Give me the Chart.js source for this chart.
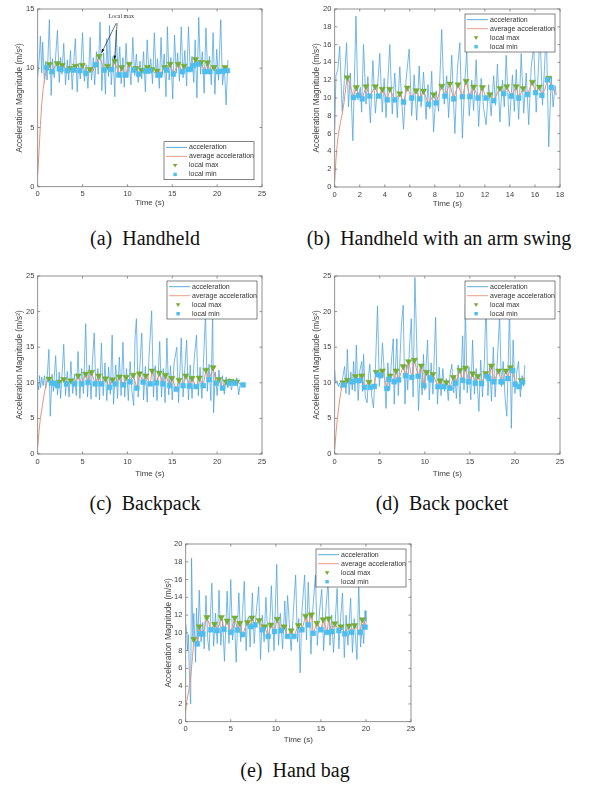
<!DOCTYPE html>
<html>
<head>
<meta charset="utf-8">
<script src="https://cdn.jsdelivr.net/npm/chart.js@4.4.1/dist/chart.umd.min.js"></script>
<style>
  body { margin: 0; background: #fff; width: 596px; height: 785px; position: relative; overflow: hidden; }
  .panel { position: absolute; width: 298px; height: 225px; }
  .cap { position: absolute; font-family: "Liberation Serif", "Times New Roman", serif; font-size: 20px;
         line-height: 24px; color: #111; white-space: pre; transform: translateX(-50%); }
</style>
</head>
<body>
<div class="panel" style="left:0;top:0"><canvas id="pa" width="298" height="225"></canvas></div>
<div class="panel" style="left:298px;top:0"><canvas id="pb" width="298" height="225"></canvas></div>
<div class="panel" style="left:0;top:265px"><canvas id="pc" width="298" height="225"></canvas></div>
<div class="panel" style="left:298px;top:265px"><canvas id="pd" width="298" height="225"></canvas></div>
<div class="panel" style="left:150px;top:530px"><canvas id="pe" width="298" height="225"></canvas></div>

<div class="cap" style="left:145px;top:226px">(a)  Handheld</div>
<div class="cap" style="left:439px;top:226px">(b)  Handheld with an arm swing</div>
<div class="cap" style="left:145px;top:491px">(c)  Backpack</div>
<div class="cap" style="left:442px;top:491px">(d)  Back pocket</div>
<div class="cap" style="left:295px;top:758px">(e)  Hand bag</div>

<script>
// ---- data: [time (s), acceleration magnitude (m/s^2)] ----

// (a) Handheld
const handheldAcc = [[0,9.3],[0.15,10.5],[0.3,12.7],[0.45,9.6],[0.55,12.2],[0.75,8.8],[0.9,10.6],[1.05,9.0],[1.3,14.1],[1.5,7.7],[1.65,10.8],[1.85,9.2],[2.0,11.0],[2.2,13.2],[2.4,8.8],[2.55,10.9],[2.7,9.5],[2.9,12.1],[3.1,8.6],[3.3,10.7],[3.45,9.0],[3.65,11.5],[3.85,8.2],[4.05,10.9],[4.2,12.5],[4.4,8.0],[4.55,10.4],[4.75,9.1],[5.0,13.0],[5.2,8.9],[5.4,10.3],[5.6,8.3],[5.85,12.6],[6.0,9.0],[6.2,10.9],[6.35,8.6],[6.55,11.4],[6.75,9.5],[6.95,13.9],[7.15,8.1],[7.35,11.3],[7.55,7.8],[7.7,12.5],[7.9,9.3],[8.0,13.6],[8.2,8.6],[8.4,11.0],[8.6,7.6],[8.75,13.2],[8.95,9.6],[9.15,11.8],[9.3,8.7],[9.5,10.9],[9.65,8.4],[9.85,12.1],[10.05,9.2],[10.2,10.5],[10.4,8.6],[10.6,12.6],[10.8,9.4],[11.0,11.2],[11.2,8.8],[11.4,10.6],[11.6,9.1],[11.8,11.4],[12.0,8.0],[12.2,12.4],[12.4,9.5],[12.6,10.8],[12.8,8.7],[13.0,13.0],[13.2,9.2],[13.35,10.8],[13.55,8.3],[13.75,12.6],[13.9,9.4],[14.1,11.2],[14.3,7.6],[14.45,13.5],[14.65,9.0],[14.85,10.9],[15.05,7.4],[15.25,12.8],[15.45,9.6],[15.6,11.3],[15.8,8.9],[16.0,13.5],[16.2,9.2],[16.4,11.5],[16.6,8.5],[16.8,13.5],[17.0,9.8],[17.2,11.0],[17.4,8.8],[17.55,12.4],[17.75,7.5],[17.95,14.3],[18.15,9.5],[18.35,11.4],[18.55,7.9],[18.75,13.4],[18.95,9.6],[19.15,11.0],[19.35,8.6],[19.55,13.0],[19.75,7.8],[19.95,11.6],[20.15,9.0],[20.4,14.1],[20.6,8.6],[20.8,10.2],[21.0,6.9],[21.2,10.7]];
const handheldAvg = [[0,1.0],[0.15,3.0],[0.3,5.2],[0.45,7.0],[0.6,8.2],[0.8,9.2],[1.0,10.05],[1.3,10.33],[1.56,9.71],[2.19,10.41],[2.4,9.95],[2.5,10.05],[2.6,9.9],[2.74,10.27],[3.3,9.8],[3.6,9.99],[4.0,9.85],[4.19,10.19],[4.71,9.8],[4.97,10.27],[5.38,9.57],[5.82,9.91],[6.1,9.7],[6.5,10.3],[6.86,11.03],[7.42,9.85],[7.79,10.19],[8.23,9.9],[8.6,10.61],[9.05,9.43],[9.35,10.08],[9.75,9.43],[10.2,10.36],[10.72,9.85],[10.94,9.99],[11.24,9.51],[11.57,9.85],[12.02,9.75],[12.24,10.08],[12.5,9.8],[12.72,9.91],[13.05,9.6],[13.3,9.77],[13.43,9.43],[13.61,9.43],[14.17,10.08],[14.35,9.85],[14.76,10.36],[15.13,9.51],[15.65,10.36],[16.13,9.71],[16.32,10.19],[16.77,9.9],[17.03,9.9],[17.32,10.22],[17.58,10.75],[17.9,10.35],[18.21,10.5],[18.62,9.71],[18.92,10.47],[19.18,9.71],[19.66,10.08],[20.1,9.71],[20.35,9.9],[20.59,9.75],[20.88,10.08],[21.14,9.8]];
const handheldMax = [[1.3,10.33],[2.19,10.41],[2.74,10.27],[3.6,9.99],[4.19,10.19],[4.97,10.27],[5.82,9.91],[6.86,11.03],[7.79,10.19],[8.6,10.61],[9.35,10.08],[10.2,10.36],[10.94,9.99],[11.57,9.85],[12.24,10.08],[12.72,9.91],[13.3,9.77],[14.17,10.08],[14.76,10.36],[15.65,10.36],[16.32,10.19],[17.58,10.75],[18.21,10.5],[18.92,10.47],[19.66,10.08],[20.88,10.08]];
const handheldMin = [[1.0,10.05],[1.56,9.71],[2.4,9.95],[2.6,9.9],[3.3,9.8],[4.0,9.85],[4.71,9.8],[5.38,9.57],[6.5,10.3],[7.42,9.85],[8.23,9.9],[9.05,9.43],[9.75,9.43],[10.72,9.85],[11.24,9.51],[12.02,9.75],[12.5,9.8],[13.43,9.43],[13.61,9.43],[14.35,9.85],[15.13,9.51],[16.13,9.71],[16.77,9.9],[17.03,9.9],[17.32,10.22],[17.9,10.35],[18.62,9.71],[19.18,9.71],[20.1,9.71],[20.59,9.75],[21.14,9.8]];
// "Local max" note: text position, arrow tails and tips (data coords)
const handheldNote = { text: [9.3, 14.4], arrows: [[8.75, 13.8, 7.12, 11.3], [8.85, 13.8, 8.57, 10.75]] };

// (b) Handheld with an arm swing
const swingAcc = [[0,6.5],[0.1,12.5],[0.25,13.2],[0.4,15.8],[0.6,8.5],[0.75,11.5],[0.95,16.2],[1.1,9.0],[1.25,12.8],[1.45,5.2],[1.7,19.2],[1.85,9.8],[2.05,11.2],[2.15,8.4],[2.3,16.0],[2.5,9.3],[2.65,12.4],[2.85,7.2],[3.05,14.2],[3.25,8.3],[3.45,11.8],[3.6,15.0],[3.8,8.4],[3.95,12.2],[4.1,7.8],[4.4,16.0],[4.6,8.2],[4.8,12.8],[5.0,7.8],[5.2,13.5],[5.35,9.8],[5.5,6.5],[5.7,12.0],[5.95,15.5],[6.15,8.0],[6.35,12.6],[6.55,7.5],[6.75,13.6],[6.9,9.0],[7.1,12.9],[7.3,7.6],[7.45,11.5],[7.6,8.8],[7.75,13.0],[7.9,6.2],[8.1,10.8],[8.3,8.5],[8.55,17.7],[8.75,9.3],[8.95,12.5],[9.1,7.8],[9.35,14.8],[9.6,6.0],[9.8,13.2],[10.0,16.2],[10.2,5.5],[10.4,12.0],[10.55,15.2],[10.75,8.0],[10.95,12.0],[11.1,8.6],[11.3,14.3],[11.5,6.8],[11.7,12.2],[11.9,8.8],[12.1,7.0],[12.3,11.5],[12.5,8.0],[12.7,12.5],[12.85,9.2],[13.0,13.8],[13.2,7.3],[13.4,12.0],[13.55,9.0],[13.7,14.8],[13.95,6.8],[14.2,12.6],[14.35,8.5],[14.5,13.2],[14.7,7.6],[14.9,15.0],[15.1,8.3],[15.3,12.8],[15.5,7.0],[15.7,13.5],[15.9,15.8],[16.1,8.4],[16.25,12.6],[16.4,17.5],[16.6,9.2],[16.75,13.0],[16.9,17.8],[17.1,4.5],[17.3,12.4],[17.45,9.0],[17.6,11.4],[17.7,10.3]];
const swingAvg = [[0,0.7],[0.1,3.0],[0.2,4.8],[0.3,6.0],[0.45,7.2],[0.6,8.2],[0.75,9.5],[0.9,11.3],[1.0,12.3],[1.2,11.6],[1.5,10.05],[1.73,11.2],[1.9,10.3],[2.05,10.6],[2.2,9.9],[2.5,11.3],[2.8,10.2],[3.24,11.3],[3.5,10.2],[3.8,11.0],[4.2,9.8],[4.4,11.0],[4.8,9.8],[5.2,10.5],[5.5,9.55],[5.8,11.15],[6.15,10.0],[6.5,10.85],[6.8,9.9],[7.1,10.8],[7.5,9.3],[7.9,10.4],[8.1,9.45],[8.55,11.35],[8.8,10.2],[9.2,11.6],[9.5,9.9],[9.85,11.5],[10.2,10.15],[10.5,11.9],[10.8,10.15],[11.1,11.25],[11.45,10.0],[11.8,11.2],[12.1,10.0],[12.4,10.4],[12.7,9.7],[13.2,11.1],[13.5,10.5],[13.75,11.3],[14.1,10.2],[14.5,11.3],[14.7,10.0],[15.05,11.1],[15.4,10.4],[15.8,11.8],[16.05,10.6],[16.35,11.25],[16.55,10.3],[16.8,11.0],[17.0,12.05],[17.1,12.25],[17.3,11.2],[17.5,10.8],[17.7,10.4]];
const swingMax = [[1.0,12.3],[1.73,11.2],[2.5,11.3],[3.24,11.3],[3.8,11.0],[4.4,11.0],[5.2,10.5],[5.8,11.15],[6.5,10.85],[7.1,10.8],[7.9,10.4],[8.55,11.35],[9.2,11.6],[9.85,11.5],[10.5,11.9],[11.1,11.25],[11.8,11.2],[12.4,10.4],[13.2,11.1],[13.75,11.3],[14.5,11.3],[15.05,11.1],[15.8,11.8],[16.35,11.25],[17.1,12.25]];
const swingMin = [[1.5,10.05],[1.9,10.3],[2.2,9.9],[2.8,10.2],[3.5,10.2],[4.2,9.8],[4.8,9.8],[5.5,9.55],[6.15,10.0],[6.8,9.9],[7.5,9.3],[8.1,9.45],[8.8,10.2],[9.5,9.9],[10.2,10.15],[10.8,10.15],[11.45,10.0],[12.1,10.0],[12.7,9.7],[13.5,10.5],[14.1,10.2],[14.7,10.0],[15.4,10.4],[16.05,10.6],[16.55,10.3],[17.0,12.05],[17.3,11.2]];

// (c) Backpack
const backpackAcc = [[0,10.0],[0.1,9.0],[0.2,11.0],[0.3,9.3],[0.45,10.8],[0.6,9.6],[0.75,11.0],[0.9,9.2],[1.05,10.6],[1.25,14.7],[1.4,5.3],[1.6,11.2],[1.75,8.8],[2.0,13.8],[2.2,8.3],[2.4,11.5],[2.55,7.8],[2.75,12.0],[2.9,15.4],[3.1,8.2],[3.3,11.6],[3.5,8.0],[3.7,13.0],[3.9,8.5],[4.1,11.2],[4.3,8.2],[4.5,14.4],[4.7,7.8],[4.9,12.0],[5.1,8.5],[5.35,18.3],[5.55,8.0],[5.75,12.5],[5.95,7.7],[6.1,13.0],[6.3,17.0],[6.5,8.0],[6.7,12.0],[6.9,7.6],[7.1,15.6],[7.3,8.2],[7.5,12.8],[7.7,7.5],[7.9,12.2],[8.1,8.4],[8.3,16.7],[8.45,7.0],[8.7,12.5],[8.9,7.8],[9.1,13.6],[9.3,8.2],[9.5,15.7],[9.7,8.0],[9.9,12.0],[10.1,7.5],[10.3,13.0],[10.5,8.8],[10.7,6.8],[10.85,16.3],[11.0,19.0],[11.2,8.0],[11.4,12.6],[11.6,17.0],[11.8,7.6],[12.0,12.3],[12.2,7.3],[12.4,13.5],[12.7,20.1],[12.9,8.0],[13.1,12.4],[13.3,7.5],[13.6,15.8],[13.8,8.0],[14.0,12.0],[14.2,7.2],[14.4,16.3],[14.6,8.3],[14.8,12.4],[15.0,7.6],[15.2,12.8],[15.5,15.0],[15.7,7.2],[16.0,16.3],[16.2,8.0],[16.4,12.0],[16.6,16.0],[16.8,7.6],[17.0,12.5],[17.2,7.8],[17.45,13.4],[17.7,16.7],[17.9,8.2],[18.1,12.2],[18.3,7.8],[18.5,13.5],[18.7,19.7],[18.9,8.8],[19.1,12.6],[19.3,7.5],[19.5,20.0],[19.6,5.8],[19.8,11.5],[20.0,8.2],[20.2,11.8],[20.4,9.0],[20.6,11.0],[20.8,8.4],[21.0,10.8],[21.2,9.3],[21.4,10.6],[21.6,9.0],[21.8,10.5],[22.0,9.6],[22.2,10.7],[22.4,8.3],[22.6,10.0],[22.8,9.7]];
const backpackAvg = [[0,1.0],[0.15,3.2],[0.3,5.0],[0.5,6.6],[0.7,8.2],[0.9,9.6],[1.05,10.1],[1.25,10.55],[1.55,9.95],[1.8,10.1],[2.0,9.9],[2.2,9.6],[2.35,10.1],[2.9,10.5],[3.2,9.85],[3.7,10.3],[4.1,9.85],[4.5,11.0],[4.9,9.85],[5.35,11.25],[5.6,10.05],[6.0,11.5],[6.4,9.85],[6.8,11.0],[7.1,9.85],[7.55,10.6],[8.0,9.35],[8.35,10.45],[8.65,9.85],[9.1,10.85],[9.55,9.7],[9.85,10.8],[10.3,10.15],[10.65,11.1],[11.05,9.25],[11.35,11.3],[11.75,10.1],[12.05,11.0],[12.55,9.85],[12.75,11.7],[13.25,10.0],[13.55,11.4],[13.95,9.85],[14.25,11.1],[14.7,9.6],[14.95,10.65],[15.45,9.1],[15.75,10.4],[16.2,9.6],[16.5,11.0],[16.9,9.55],[17.2,10.65],[17.65,9.45],[18.0,10.7],[18.45,9.6],[18.75,11.8],[19.1,10.45],[19.55,12.15],[19.9,9.95],[20.2,10.5],[20.6,9.25],[21.0,10.15],[21.35,9.95],[21.5,10.25],[22.0,9.95],[22.2,10.15],[22.6,9.8],[22.9,9.7]];
const backpackMax = [[1.25,10.55],[2.35,10.1],[2.9,10.5],[3.7,10.3],[4.5,11.0],[5.35,11.25],[6.0,11.5],[6.8,11.0],[7.55,10.6],[8.35,10.45],[9.1,10.85],[9.85,10.8],[10.65,11.1],[11.35,11.3],[12.05,11.0],[12.75,11.7],[13.55,11.4],[14.25,11.1],[14.95,10.65],[15.75,10.4],[16.5,11.0],[17.2,10.65],[18.0,10.7],[18.75,11.8],[19.55,12.15],[20.2,10.5],[21.0,10.15],[21.5,10.25],[22.2,10.15]];
const backpackMin = [[1.55,9.95],[2.0,9.9],[2.2,9.6],[3.2,9.85],[4.1,9.85],[4.9,9.85],[5.6,10.05],[6.4,9.85],[7.1,9.85],[8.0,9.35],[8.65,9.85],[9.55,9.7],[10.3,10.15],[11.05,9.25],[11.75,10.1],[12.55,9.85],[13.25,10.0],[13.95,9.85],[14.7,9.6],[15.45,9.1],[16.2,9.6],[16.9,9.55],[17.65,9.45],[18.45,9.6],[19.1,10.45],[19.9,9.95],[20.6,9.25],[21.35,9.95],[22.0,9.95],[22.9,9.7]];

// (d) Back pocket
const pocketAcc = [[0,11.8],[0.1,10.0],[0.25,10.3],[0.4,9.5],[0.55,10.0],[0.7,9.2],[0.9,10.8],[1.1,12.3],[1.25,8.5],[1.4,14.7],[1.6,8.3],[1.8,11.5],[1.95,9.0],[2.1,13.0],[2.25,8.8],[2.4,15.3],[2.6,7.5],[2.8,11.8],[3.0,13.0],[3.1,8.8],[3.2,14.0],[3.4,8.0],[3.6,7.2],[3.75,11.0],[3.9,12.6],[4.1,8.2],[4.3,6.5],[4.5,11.4],[4.75,20.8],[4.95,9.5],[5.15,12.0],[5.3,15.6],[5.5,11.5],[5.7,6.4],[5.9,12.8],[6.1,9.0],[6.3,13.2],[6.5,16.2],[6.6,7.0],[6.75,12.2],[6.9,16.2],[7.05,8.2],[7.2,12.0],[7.4,18.0],[7.6,20.9],[7.8,7.0],[7.95,12.5],[8.1,9.0],[8.3,15.0],[8.5,19.0],[8.7,8.0],[8.9,24.8],[9.1,15.6],[9.3,6.1],[9.5,12.5],[9.7,8.3],[9.85,14.0],[10.0,9.0],[10.3,16.0],[10.5,7.6],[10.7,12.8],[10.9,8.4],[11.2,19.2],[11.4,7.0],[11.6,12.2],[11.8,8.2],[12.0,12.0],[12.2,8.8],[12.4,10.6],[12.6,7.5],[12.8,11.2],[13.0,12.6],[13.2,8.6],[13.35,11.0],[13.5,7.8],[13.7,12.5],[13.9,7.0],[14.2,16.6],[14.35,9.0],[14.5,21.0],[14.7,8.6],[14.9,12.2],[15.1,7.6],[15.3,16.0],[15.5,8.4],[15.7,12.0],[16.0,6.0],[16.2,13.2],[16.4,8.0],[16.6,12.8],[16.8,21.5],[17.0,8.2],[17.2,12.4],[17.4,7.4],[17.6,15.0],[17.8,8.0],[18.0,12.0],[18.3,19.4],[18.5,9.5],[18.7,13.0],[18.9,8.0],[19.1,5.3],[19.25,12.5],[19.4,21.0],[19.6,3.6],[19.8,16.0],[20.0,8.5],[20.2,11.5],[20.4,13.0],[20.6,8.0],[20.8,11.0],[20.95,9.5],[21.1,12.5]];
const pocketAvg = [[0,0.7],[0.15,3.0],[0.3,5.0],[0.45,6.6],[0.6,8.0],[0.75,9.2],[0.9,10.05],[1.05,9.7],[1.4,10.4],[1.9,10.15],[2.3,10.9],[2.45,10.3],[2.8,10.3],[3.0,11.0],[3.3,9.35],[3.8,10.1],[3.95,9.35],[4.4,9.5],[4.6,11.5],[4.8,11.15],[5.1,11.0],[5.3,11.7],[5.8,9.2],[6.0,10.5],[6.15,11.0],[6.6,10.15],[6.8,11.7],[7.1,10.4],[7.6,12.3],[7.85,11.0],[8.2,13.0],[8.55,10.75],[8.85,13.2],[9.25,10.95],[9.6,12.4],[9.9,9.6],[10.2,11.5],[10.55,10.7],[10.75,10.4],[10.9,11.2],[11.45,9.45],[11.7,10.3],[12.1,9.45],[12.4,10.05],[12.8,9.25],[13.15,10.8],[13.4,9.95],[13.9,11.8],[14.2,10.35],[14.5,12.1],[14.85,10.15],[15.3,11.3],[15.6,9.95],[15.9,10.95],[16.3,9.9],[16.75,11.35],[16.9,10.9],[17.1,10.6],[17.4,12.4],[17.65,10.15],[18.2,11.7],[18.45,10.15],[18.6,10.15],[19.0,11.7],[19.2,10.6],[19.5,12.15],[19.75,11.7],[20.05,9.8],[20.45,9.45],[20.7,10.35],[20.85,10.1],[21.1,10.8]];
const pocketMax = [[0.9,10.05],[1.4,10.4],[2.3,10.9],[3.0,11.0],[3.8,10.1],[4.6,11.5],[5.3,11.7],[6.15,11.0],[6.8,11.7],[7.6,12.3],[8.2,13.0],[8.85,13.2],[9.6,12.4],[10.2,11.5],[10.9,11.2],[11.7,10.3],[12.4,10.05],[13.15,10.8],[13.9,11.8],[14.5,12.1],[15.3,11.3],[15.9,10.95],[16.75,11.35],[17.4,12.4],[18.2,11.7],[19.0,11.7],[19.5,12.15],[20.7,10.35]];
const pocketMin = [[1.05,9.7],[1.9,10.15],[2.45,10.3],[2.8,10.3],[3.3,9.35],[3.95,9.35],[4.4,9.5],[4.8,11.15],[5.1,11.0],[5.8,9.2],[6.0,10.5],[6.6,10.15],[7.1,10.4],[7.85,11.0],[8.55,10.75],[9.25,10.95],[9.9,9.6],[10.55,10.7],[10.75,10.4],[11.45,9.45],[12.1,9.45],[12.8,9.25],[13.4,9.95],[14.2,10.35],[14.85,10.15],[15.6,9.95],[16.3,9.9],[16.9,10.9],[17.1,10.6],[17.65,10.15],[18.45,10.15],[18.6,10.15],[19.2,10.6],[19.75,11.7],[20.05,9.8],[20.45,9.45],[20.85,10.1]];

// (e) Hand bag
const bagAcc = [[0,11.0],[0.1,10.2],[0.2,8.0],[0.3,9.8],[0.45,4.0],[0.55,2.0],[0.65,18.4],[0.8,9.0],[0.9,12.2],[1.1,6.7],[1.2,12.8],[1.35,8.8],[1.5,14.8],[1.7,9.0],[1.9,11.2],[2.05,8.2],[2.25,14.2],[2.45,9.2],[2.6,8.0],[2.75,12.0],[2.9,15.6],[3.1,8.5],[3.3,12.2],[3.5,8.8],[3.7,14.8],[3.9,8.6],[4.1,11.5],[4.3,6.8],[4.6,14.7],[4.8,8.8],[5.0,16.0],[5.2,9.2],[5.4,11.8],[5.6,6.7],[5.9,14.5],[6.1,9.0],[6.3,12.2],[6.5,15.8],[6.7,8.0],[6.85,11.5],[7.0,11.8],[7.15,8.4],[7.4,14.5],[7.6,8.8],[7.8,12.0],[8.1,15.2],[8.3,7.0],[8.5,12.0],[8.7,9.0],[8.9,14.0],[9.2,7.8],[9.5,15.3],[9.8,8.0],[10.1,17.7],[10.3,8.6],[10.5,12.2],[10.75,8.2],[11.0,13.6],[11.15,9.4],[11.3,14.2],[11.7,8.0],[11.95,12.4],[12.2,16.5],[12.4,9.0],[12.55,11.6],[12.7,5.5],[12.9,12.5],[13.2,16.5],[13.4,9.2],[13.6,15.7],[13.9,7.6],[14.1,12.6],[14.4,16.5],[14.6,8.6],[14.85,12.4],[15.1,14.9],[15.3,8.0],[15.55,12.5],[15.8,16.0],[16.0,8.6],[16.2,12.0],[16.4,7.8],[16.8,15.0],[17.0,8.2],[17.2,11.8],[17.4,14.5],[17.6,7.2],[17.8,12.0],[18.0,8.6],[18.3,13.9],[18.5,7.8],[18.7,11.6],[19.0,7.0],[19.2,15.5],[19.4,8.4],[19.6,11.0],[19.75,8.8],[19.9,12.5],[20.0,11.3]];
const bagAvg = [[0,1.2],[0.1,2.2],[0.25,3.0],[0.45,4.2],[0.6,5.5],[0.75,7.2],[0.9,9.3],[1.1,9.2],[1.3,8.75],[1.5,10.7],[1.65,9.9],[1.9,9.85],[2.35,11.75],[2.8,10.35],[3.2,11.0],[3.5,10.25],[3.95,11.75],[4.25,10.4],[4.6,11.35],[5.0,10.05],[5.45,11.7],[5.75,10.3],[6.0,11.1],[6.3,9.8],[6.85,11.2],[7.2,10.7],[7.35,11.7],[7.7,10.9],[8.15,11.4],[8.5,10.35],[8.75,10.7],[9.15,9.6],[9.45,10.9],[9.85,10.15],[10.15,11.55],[10.6,10.25],[10.9,10.7],[11.3,9.6],[11.7,10.25],[12.0,9.6],[12.5,10.85],[12.9,10.35],[13.3,11.9],[13.6,10.9],[13.95,12.05],[14.15,9.95],[14.55,11.1],[15.0,10.35],[15.25,11.5],[15.7,10.05],[15.85,11.6],[16.2,10.15],[16.55,11.05],[17.0,10.25],[17.25,10.7],[17.65,9.9],[18.1,10.8],[18.4,10.05],[18.75,10.85],[19.35,10.05],[19.6,11.5],[19.9,10.65],[20.05,11.3]];
const bagMax = [[0.9,9.3],[1.5,10.7],[2.35,11.75],[3.2,11.0],[3.95,11.75],[4.6,11.35],[5.45,11.7],[6.0,11.1],[6.85,11.2],[7.35,11.7],[8.15,11.4],[8.75,10.7],[9.45,10.9],[10.15,11.55],[10.9,10.7],[11.7,10.25],[12.5,10.85],[13.3,11.9],[13.95,12.05],[14.55,11.1],[15.25,11.5],[15.85,11.6],[16.55,11.05],[17.25,10.7],[18.1,10.8],[18.75,10.85],[19.6,11.5]];
const bagMin = [[1.3,8.75],[1.65,9.9],[1.9,9.85],[2.8,10.35],[3.5,10.25],[4.25,10.4],[5.0,10.05],[5.75,10.3],[6.3,9.8],[7.2,10.7],[7.7,10.9],[8.5,10.35],[9.15,9.6],[9.85,10.15],[10.6,10.25],[11.3,9.6],[12.0,9.6],[12.9,10.35],[13.6,10.9],[14.15,9.95],[15.0,10.35],[15.7,10.05],[16.2,10.15],[17.0,10.25],[17.65,9.9],[18.4,10.05],[19.35,10.05],[19.9,10.65]];

// tick values
const ticks25 = [0, 5, 10, 15, 20, 25];
const ticks15 = [0, 5, 10, 15];
const ticks18 = [0, 2, 4, 6, 8, 10, 12, 14, 16, 18];
const ticks20 = [0, 2, 4, 6, 8, 10, 12, 14, 16, 18, 20];

const seriesNames = ["acceleration", "average acceleration", "local max", "local min"];

const SANS = "'Liberation Sans', Arial, sans-serif";
const TEXT = "#404040";
const ACC_COLOR = "#4aa2de";
const AVG_COLOR = "#e9957a";
const MAX_COLOR = "#77ac30";
const MIN_COLOR = "#4dbeee";

const toXY = arr => arr.map(p => ({ x: p[0], y: p[1] }));

// box outline, inward ticks, legend, optional note
const framePlugin = {
  id: "frame",
  afterDatasetsDraw(chart, args, opts) {
    const { ctx, chartArea: a, scales } = chart;
    ctx.save();
    ctx.strokeStyle = "#777";
    ctx.lineWidth = 0.8;
    ctx.strokeRect(a.left, a.top, a.right - a.left, a.bottom - a.top);
    ctx.beginPath();
    scales.x.ticks.forEach(t => {
      const px = scales.x.getPixelForValue(t.value);
      ctx.moveTo(px, a.bottom); ctx.lineTo(px, a.bottom - 2.5);
      ctx.moveTo(px, a.top); ctx.lineTo(px, a.top + 2.5);
    });
    scales.y.ticks.forEach(t => {
      const py = scales.y.getPixelForValue(t.value);
      ctx.moveTo(a.left, py); ctx.lineTo(a.left + 2.5, py);
      ctx.moveTo(a.right, py); ctx.lineTo(a.right - 2.5, py);
    });
    ctx.stroke();

    // note with arrows (panel a)
    if (opts.note) {
      const n = opts.note;
      ctx.fillStyle = "#333";
      ctx.font = "6px 'Liberation Serif', serif";
      ctx.textAlign = "center";
      ctx.textBaseline = "middle";
      ctx.fillText("Local max", scales.x.getPixelForValue(n.text[0]), scales.y.getPixelForValue(n.text[1]));
      ctx.strokeStyle = "#111";
      ctx.fillStyle = "#111";
      ctx.lineWidth = 0.6;
      n.arrows.forEach(r => {
        const x1 = scales.x.getPixelForValue(r[0]), y1 = scales.y.getPixelForValue(r[1]);
        const x2 = scales.x.getPixelForValue(r[2]), y2 = scales.y.getPixelForValue(r[3]);
        ctx.beginPath(); ctx.moveTo(x1, y1); ctx.lineTo(x2, y2); ctx.stroke();
        const ang = Math.atan2(y2 - y1, x2 - x1);
        ctx.beginPath();
        ctx.moveTo(x2, y2);
        ctx.lineTo(x2 - 4 * Math.cos(ang - 0.35), y2 - 4 * Math.sin(ang - 0.35));
        ctx.lineTo(x2 - 4 * Math.cos(ang + 0.35), y2 - 4 * Math.sin(ang + 0.35));
        ctx.closePath(); ctx.fill();
      });
    }

    // legend box
    const w = 90, h = 38;
    const lx = a.right - opts.legendGap[0] - w;
    const ly = opts.legendBottom ? a.bottom - opts.legendGap[1] - h : a.top + opts.legendGap[1];
    ctx.fillStyle = "#fff";
    ctx.fillRect(lx, ly, w, h);
    ctx.strokeStyle = "#333";
    ctx.lineWidth = 0.6;
    ctx.strokeRect(lx, ly, w, h);
    ctx.font = "7px " + SANS;
    ctx.textAlign = "left";
    ctx.textBaseline = "middle";
    seriesNames.forEach((name, i) => {
      const cy = ly + 5.7 + i * 9;
      if (i < 2) {
        ctx.strokeStyle = i === 0 ? ACC_COLOR : AVG_COLOR;
        ctx.lineWidth = 0.9;
        ctx.beginPath(); ctx.moveTo(lx + 2, cy); ctx.lineTo(lx + 23, cy); ctx.stroke();
      } else if (i === 2) {
        ctx.fillStyle = MAX_COLOR;
        ctx.beginPath(); ctx.moveTo(lx + 8.8, cy - 1.5); ctx.lineTo(lx + 13.4, cy - 1.5); ctx.lineTo(lx + 11.1, cy + 2.2); ctx.closePath(); ctx.fill();
      } else {
        ctx.fillStyle = MIN_COLOR;
        ctx.fillRect(lx + 9.4, cy - 1.7, 3.4, 3.4);
      }
      ctx.fillStyle = "#333";
      ctx.fillText(name, lx + 25, cy);
    });
    ctx.restore();
  }
};

function makePanel(id, d) {
  const W = 298, H = 225;
  const g = d.geo;
  new Chart(document.getElementById(id), {
    type: "scatter",
    data: {
      datasets: [
        { label: seriesNames[0], data: toXY(d.acc), showLine: true, borderColor: ACC_COLOR, borderWidth: 0.75,
          pointRadius: 0, order: 4 },
        { label: seriesNames[1], data: toXY(d.avg), showLine: true, borderColor: AVG_COLOR, borderWidth: 1,
          pointRadius: 0, order: 3 },
        { label: seriesNames[2], data: toXY(d.max), pointStyle: "triangle", rotation: 180, pointRadius: 3.6,
          backgroundColor: MAX_COLOR, borderColor: MAX_COLOR, borderWidth: 0.5, order: 2 },
        { label: seriesNames[3], data: toXY(d.min), pointStyle: "rect", pointRadius: 3.4,
          backgroundColor: MIN_COLOR, borderColor: MIN_COLOR, borderWidth: 0.5, order: 1 }
      ]
    },
    options: {
      responsive: false,
      animation: false,
      events: [],
      layout: { padding: { top: g.top, right: W - g.right, bottom: 0, left: 0 } },
      plugins: {
        legend: { display: false },
        tooltip: { enabled: false },
        frame: { legendGap: d.legendGap, legendBottom: d.legendBottom, note: d.note }
      },
      scales: {
        x: {
          type: "linear",
          min: d.xTicks[0], max: d.xTicks[d.xTicks.length - 1],
          afterBuildTicks: s => { s.ticks = d.xTicks.map(v => ({ value: v })); },
          afterFit: s => { s.height = H - g.bottom; },
          grid: { display: false, drawTicks: false },
          border: { display: false },
          ticks: { padding: 3, autoSkip: false, maxRotation: 0, color: TEXT, font: { family: SANS, size: 7.5 } },
          title: { display: true, text: "Time (s)", color: TEXT, font: { family: SANS, size: 8 },
                   padding: { top: 0, bottom: H - g.xTitle - 4.8 } }
        },
        y: {
          type: "linear",
          min: d.yTicks[0], max: d.yTicks[d.yTicks.length - 1],
          afterBuildTicks: s => { s.ticks = d.yTicks.map(v => ({ value: v })); },
          afterFit: s => { s.width = g.left; },
          grid: { display: false, drawTicks: false },
          border: { display: false },
          ticks: { padding: 3.4, autoSkip: false, color: TEXT, font: { family: SANS, size: 7.5 } },
          title: { display: true, text: "Acceleration Magnitude (m/s\u00b2)", color: TEXT, font: { family: SANS, size: 8.2 },
                   padding: { top: g.yTitle - 4.9, bottom: 0 } }
        }
      }
    },
    plugins: [framePlugin]
  });
}

makePanel("pa", { acc: handheldAcc, avg: handheldAvg, max: handheldMax, min: handheldMin,
  xTicks: ticks25, yTicks: ticks15, note: handheldNote, legendBottom: true, legendGap: [8, 7],
  geo: { left: 37.7, right: 262, top: 9, bottom: 186.7, xTitle: 202.5, yTitle: 20 } });
makePanel("pb", { acc: swingAcc, avg: swingAvg, max: swingMax, min: swingMin,
  xTicks: ticks18, yTicks: ticks20, legendBottom: false, legendGap: [5, 5],
  geo: { left: 36.7, right: 262, top: 9, bottom: 187, xTitle: 204, yTitle: 19 } });
makePanel("pc", { acc: backpackAcc, avg: backpackAvg, max: backpackMax, min: backpackMin,
  xTicks: ticks25, yTicks: ticks25, legendBottom: false, legendGap: [5, 5],
  geo: { left: 37.7, right: 262, top: 11, bottom: 189, xTitle: 208.3, yTitle: 20 } });
makePanel("pd", { acc: pocketAcc, avg: pocketAvg, max: pocketMax, min: pocketMin,
  xTicks: ticks25, yTicks: ticks25, legendBottom: false, legendGap: [5, 5],
  geo: { left: 36.7, right: 262, top: 11, bottom: 189, xTitle: 208.3, yTitle: 19 } });
makePanel("pe", { acc: bagAcc, avg: bagAvg, max: bagMax, min: bagMin,
  xTicks: ticks25, yTicks: ticks20, legendBottom: false, legendGap: [5, 5],
  geo: { left: 35.7, right: 261, top: 14, bottom: 191.7, xTitle: 210, yTitle: 18.3 } });
</script>
</body>
</html>
